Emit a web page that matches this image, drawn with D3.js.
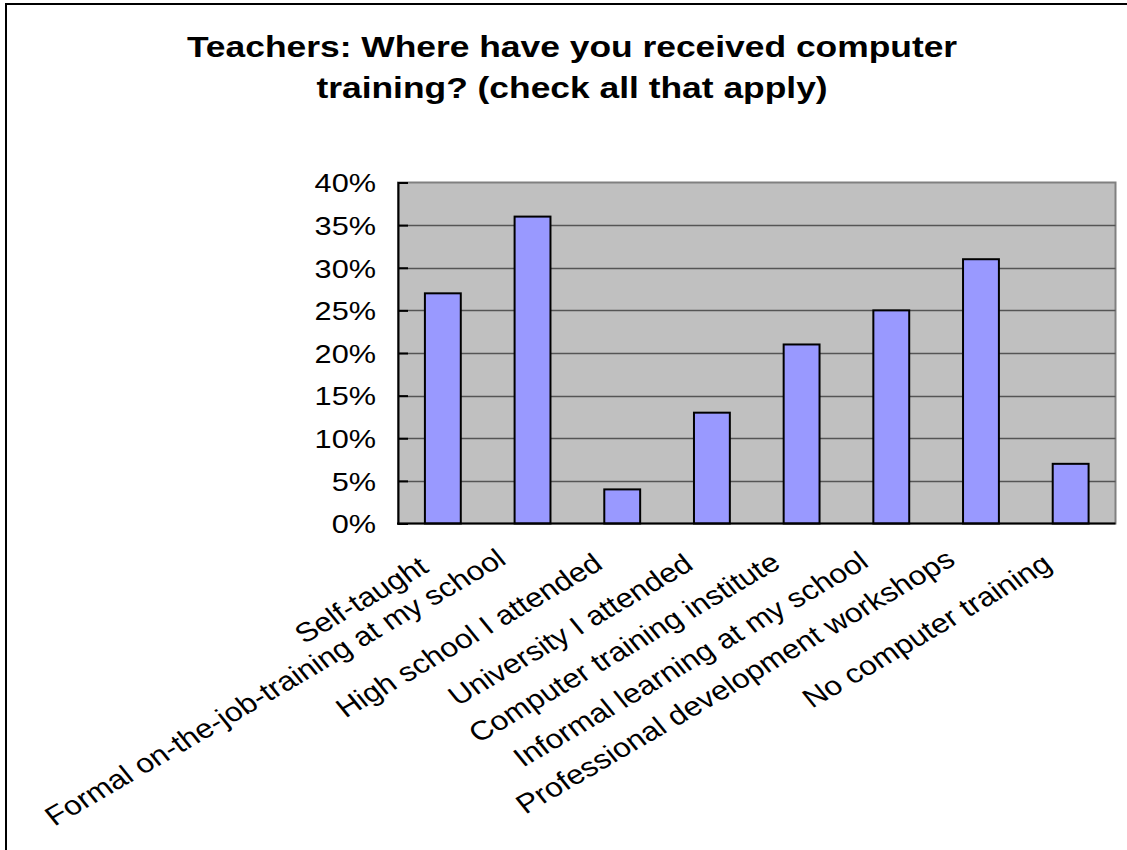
<!DOCTYPE html>
<html><head><meta charset="utf-8">
<script src="https://cdn.jsdelivr.net/npm/d3@7"></script>
<style>body{margin:0;background:#fff}svg{display:block}</style>
</head><body>
<script>
const categories = ["Self-taught","Formal on-the-job-training at my school","High school I attended","University I attended","Computer training institute","Informal learning at my school","Professional development workshops","No computer training"];
const values = [0.27,0.36,0.04,0.13,0.21,0.25,0.31,0.07];
const yTicks = [0,0.05,0.10,0.15,0.20,0.25,0.30,0.35,0.40];
const titleLines = ["Teachers: Where have you received computer","training? (check all that apply)"];

const W=1127,H=850, SX=1.18;
const FONT="Liberation Sans, Arial, sans-serif";
const svg=d3.select("body").append("svg").attr("width",W).attr("height",H);
svg.append("rect").attr("width",W).attr("height",H).attr("fill","#fff");
// outer border (top & left visible)
svg.append("line").attr("x1",5).attr("x2",W).attr("y1",4).attr("y2",4).attr("stroke","#000").attr("stroke-width",2);
svg.append("line").attr("x1",6).attr("x2",6).attr("y1",3).attr("y2",H).attr("stroke","#000").attr("stroke-width",2);

const L=398,R=1115.5,T=182.5,B=523.5;
const x=d3.scaleBand().domain(categories).range([L,R]).paddingInner(0.6).paddingOuter(0.3);
const y=d3.scaleLinear().domain([0,0.40]).range([B,T]);

svg.append("rect").attr("x",L).attr("y",T).attr("width",R-L).attr("height",B-T).attr("fill","#C0C0C0").attr("stroke","#808080").attr("stroke-width",2);

// gridlines
svg.append("g").selectAll("line").data(yTicks.filter(d=>d>0&&d<0.40)).join("line")
  .attr("x1",L).attr("x2",R).attr("y1",d=>Math.round(y(d))+0.5).attr("y2",d=>Math.round(y(d))+0.5)
  .attr("stroke","#555").attr("stroke-width",1.3);

// bars
svg.append("g").selectAll("rect").data(values).join("rect")
  .attr("x",(d,i)=>x(categories[i])).attr("width",x.bandwidth())
  .attr("y",d=>y(d)).attr("height",d=>B-y(d))
  .attr("fill","#9999FF").attr("stroke","#000").attr("stroke-width",2);

// y axis
const yAxis=d3.axisLeft(y).tickValues(yTicks).tickFormat(d3.format(".0%")).tickSize(-10);
const ga=svg.append("g").attr("transform",`translate(${L},0)`).call(yAxis);
ga.select(".domain").attr("stroke","#000").attr("stroke-width",2);
ga.selectAll(".tick line").attr("stroke","#000").attr("stroke-width",2);
ga.selectAll(".tick text").attr("font-family",FONT).attr("font-size",26).attr("fill","#000")
  .attr("x",0).attr("dy","0.36em").attr("transform",`translate(-22,0) scale(${SX},1)`);
// bottom axis line
svg.append("line").attr("x1",L-1).attr("x2",R).attr("y1",B).attr("y2",B).attr("stroke","#000").attr("stroke-width",2);

// category labels
const cl=svg.append("g").selectAll("text").data(categories).join("text")
  .attr("text-anchor","end").attr("font-family",FONT).attr("font-size",26.8).attr("fill","#000")
  .text(d=>d);
cl.each(function(d){
  const len=this.getComputedTextLength();
  const cx=x(d)+x.bandwidth()/2-8-0.036*len;
  const cy=574-0.024*len;
  d3.select(this).attr("transform",`translate(${cx},${cy}) scale(${SX},1) rotate(-34.5)`);
});

// title
svg.append("g").selectAll("text").data(titleLines).join("text")
  .attr("transform",(d,i)=>`translate(572,${57+i*41}) scale(${SX},1)`)
  .attr("text-anchor","middle").attr("font-family",FONT).attr("font-weight","bold").attr("font-size",30)
  .text(d=>d);
</script>
</body></html>
